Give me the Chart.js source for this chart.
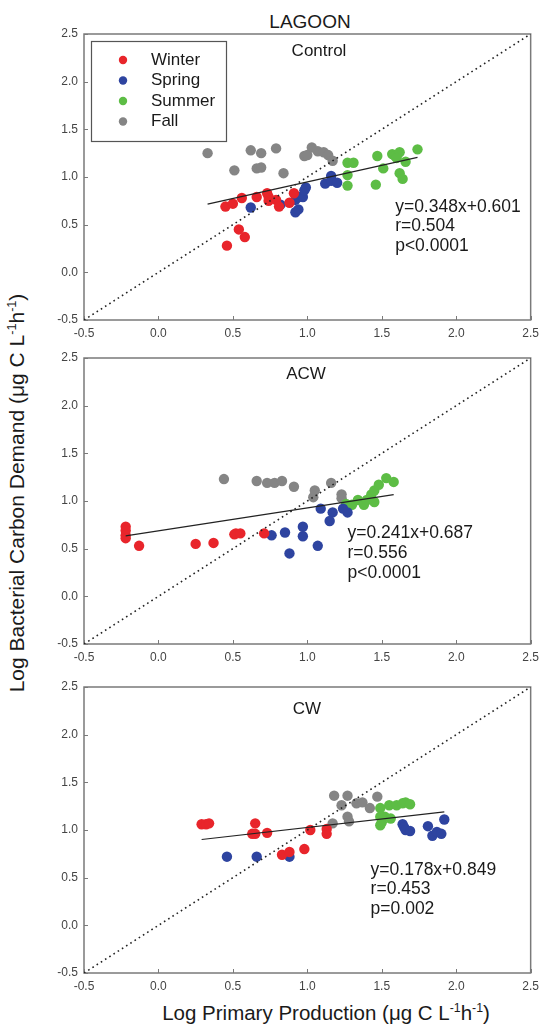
<!DOCTYPE html>
<html>
<head>
<meta charset="utf-8">
<script src="https://cdn.jsdelivr.net/npm/chart.js@4"></script>
<style>
  html, body { margin: 0; padding: 0; background: #fff; }
  body { width: 545px; height: 1030px; position: relative; overflow: hidden;
         font-family: "Liberation Sans", Arial, sans-serif; color: #1a1a1a; }
  canvas { position: absolute; left: 0; }
  .txt { position: absolute; white-space: nowrap; line-height: 1; }
  .txt sup { font-size: 0.6em; vertical-align: 0.6em; line-height: 0; }
  #title { left: 310px; top: 21px; font-size: 19px; transform: translate(-50%, -50%); }
  #xtitle { left: 326px; top: 1013px; font-size: 20.5px; transform: translate(-50%, -50%); }
  #ytitle { left: 16px; top: 493px; font-size: 21px; transform: translate(-50%, -50%) rotate(-90deg); }
</style>
</head>
<body>
<div class="txt" id="title">LAGOON</div>
<div class="txt" id="ytitle">Log Bacterial Carbon Demand (μg C L<sup>-1</sup>h<sup>-1</sup>)</div>
<div class="txt" id="xtitle">Log Primary Production (μg C L<sup>-1</sup>h<sup>-1</sup>)</div>
<canvas id="c1" width="545" height="340" style="top:0px"></canvas>
<canvas id="c2" width="545" height="340" style="top:324px"></canvas>
<canvas id="c3" width="545" height="340" style="top:653px"></canvas>
<script>
// Season labels and colours
const seasons = ['Winter', 'Spring', 'Summer', 'Fall'];
const seasonColors = ['#e8252b', '#2e44a0', '#5dbd45', '#858585'];

// Axis range shared by all panels (log units)
const axisMin = -0.5;
const axisMax = 2.5;
const axisStep = 0.5;

// Control: [log PP, log BCD]
const controlWinter = [[0.45,0.69],[0.50,0.72],[0.56,0.78],[0.66,0.79],[0.73,0.83],[0.74,0.79],[0.74,0.75],[0.79,0.76],[0.81,0.69],[0.88,0.73],[0.91,0.83],[0.54,0.45],[0.58,0.37],[0.46,0.28]];
const controlSpring = [[0.62,0.68],[0.82,0.71],[0.92,0.63],[0.94,0.66],[0.92,0.76],[0.94,0.79],[0.97,0.79],[0.98,0.86],[0.99,0.89],[1.12,0.93],[1.16,1.01],[1.16,0.96],[1.20,0.94]];
const controlSummer = [[1.27,1.15],[1.31,1.15],[1.27,1.02],[1.27,0.91],[1.47,1.22],[1.51,1.09],[1.46,0.92],[1.57,1.24],[1.59,1.22],[1.62,1.26],[1.60,1.20],[1.66,1.16],[1.62,1.04],[1.64,0.98],[1.74,1.29]];
const controlFall = [[0.33,1.25],[0.51,1.07],[0.62,1.28],[0.69,1.25],[0.66,1.09],[0.69,1.10],[0.79,1.30],[0.84,1.04],[0.98,1.22],[1.00,1.23],[1.03,1.31],[1.07,1.27],[1.11,1.26],[1.14,1.23],[1.17,1.17]];

// ACW
const acwWinter = [[-0.22,0.73],[-0.22,0.69],[-0.22,0.64],[-0.22,0.61],[-0.13,0.53],[0.25,0.55],[0.37,0.56],[0.51,0.65],[0.52,0.66],[0.55,0.66],[0.71,0.66]];
const acwSpring = [[0.76,0.64],[0.85,0.67],[0.88,0.45],[0.97,0.73],[0.97,0.63],[1.07,0.53],[1.09,0.92],[1.17,0.88],[1.15,0.79],[1.24,0.92],[1.27,0.88]];
const acwSummer = [[1.26,0.97],[1.30,0.96],[1.34,1.01],[1.38,0.96],[1.40,1.01],[1.45,0.99],[1.43,1.07],[1.45,1.11],[1.48,1.17],[1.53,1.24],[1.58,1.20]];
const acwFall = [[0.44,1.23],[0.66,1.21],[0.73,1.19],[0.78,1.19],[0.83,1.21],[0.91,1.15],[1.05,1.11],[1.04,1.04],[1.16,1.19],[1.23,1.07],[1.23,1.03]];

// CW
const cwWinter = [[0.29,1.06],[0.32,1.06],[0.34,1.07],[0.65,1.07],[0.63,0.96],[0.65,0.96],[0.73,0.97],[0.83,0.74],[0.88,0.77],[0.98,0.80],[1.02,1.00],[1.13,1.01],[1.13,0.96]];
const cwSpring = [[0.46,0.72],[0.66,0.72],[0.88,0.72],[1.64,1.06],[1.65,1.03],[1.66,1.00],[1.69,0.99],[1.81,1.04],[1.84,0.94],[1.87,0.98],[1.90,0.96],[1.92,1.11]];
const cwSummer = [[1.49,1.23],[1.49,1.14],[1.50,1.08],[1.49,1.05],[1.52,1.14],[1.55,1.26],[1.56,1.12],[1.60,1.26],[1.64,1.28],[1.66,1.29],[1.69,1.27]];
const cwFall = [[1.18,1.36],[1.27,1.36],[1.47,1.35],[1.23,1.26],[1.33,1.28],[1.37,1.29],[1.42,1.23],[1.27,1.14],[1.28,1.09],[1.17,1.07]];

// Panel names and regression statistics
const panelNames = ['Control', 'ACW', 'CW'];
const slopes = [0.348, 0.241, 0.178];
const intercepts = [0.601, 0.687, 0.849];
const rValues = ['0.504', '0.556', '0.453'];
const pTexts = ['p<0.0001', 'p<0.0001', 'p=0.002'];

const FONT = '"Liberation Sans", Arial, sans-serif';

const panels = [
  { id: 'c1', seasonData: [controlWinter, controlSpring, controlSummer, controlFall],
    titleAt: { x: 319, dy: 17 }, statsAt: { x: 1.59, y: 0.685 }, legend: true },
  { id: 'c2', seasonData: [acwWinter, acwSpring, acwSummer, acwFall],
    titleAt: { x: 306, dy: 16 }, statsAt: { x: 1.27, y: 0.66 }, legend: false },
  { id: 'c3', seasonData: [cwWinter, cwSpring, cwSummer, cwFall],
    titleAt: { x: 307, dy: 22 }, statsAt: { x: 1.425, y: 0.58 }, legend: false }
];

// Frame, inward tick marks, panel title, stats text and legend box
const decorPlugin = {
  id: 'decor',
  beforeDatasetsDraw(chart, args, opts) {
    const { ctx, chartArea: a, scales } = chart;
    ctx.save();
    ctx.strokeStyle = '#7a7a7a';
    ctx.lineWidth = 1.5;
    ctx.strokeRect(a.left, a.top, a.right - a.left, a.bottom - a.top);
    ctx.lineWidth = 1;
    ctx.beginPath();
    scales.x.ticks.forEach(t => {
      const px = Math.round(scales.x.getPixelForValue(t.value)) + 0.5;
      ctx.moveTo(px, a.bottom); ctx.lineTo(px, a.bottom - 4);
    });
    scales.y.ticks.forEach(t => {
      const py = Math.round(scales.y.getPixelForValue(t.value)) + 0.5;
      ctx.moveTo(a.left, py); ctx.lineTo(a.left + 4, py);
    });
    ctx.stroke();
    ctx.restore();
  },
  afterDraw(chart, args, opts) {
    const { ctx, chartArea: a, scales } = chart;
    const i = opts.index;
    const p = panels[i];
    ctx.save();
    ctx.fillStyle = '#1a1a1a';
    ctx.textBaseline = 'middle';
    ctx.font = '17px ' + FONT;
    ctx.textAlign = 'center';
    ctx.fillText(panelNames[i], p.titleAt.x, a.top + p.titleAt.dy);

    ctx.textAlign = 'left';
    ctx.font = '17.5px ' + FONT;
    const sx = scales.x.getPixelForValue(p.statsAt.x);
    const sy = scales.y.getPixelForValue(p.statsAt.y);
    const eq = 'y=' + slopes[i].toFixed(3) + 'x+' + intercepts[i].toFixed(3);
    ctx.fillText(eq, sx, sy);
    ctx.fillText('r=' + rValues[i], sx, sy + 19.5);
    ctx.fillText(pTexts[i], sx, sy + 39.5);

    if (p.legend) {
      ctx.font = '17px ' + FONT;
      const bx = 91, by = 41, bw = 135, bh = 100;
      ctx.strokeStyle = '#555';
      ctx.lineWidth = 1.2;
      ctx.strokeRect(bx + 0.5, by + 0.5, bw, bh);
      const items = chart.data.datasets.filter(d => d.isSeason);
      items.forEach((d, k) => {
        const ry = by + 19 + k * 20.5;
        ctx.beginPath();
        ctx.fillStyle = d.backgroundColor;
        ctx.arc(bx + 32, ry, 4.2, 0, Math.PI * 2);
        ctx.fill();
        ctx.fillStyle = '#1a1a1a';
        ctx.fillText(d.label, bx + 60, ry);
      });
    }
    ctx.restore();
  }
};

panels.forEach((p, i) => {
  const allX = p.seasonData.flat().map(pt => pt[0]);
  const xLo = Math.min(...allX), xHi = Math.max(...allX);
  const fit = x => slopes[i] * x + intercepts[i];

  const datasets = [
    { label: 'fit', type: 'line', data: [{ x: xLo, y: fit(xLo) }, { x: xHi, y: fit(xHi) }],
      borderColor: '#222', borderWidth: 1.2, pointRadius: 0, showLine: true, fill: false, order: 0 },
    { label: '1:1', type: 'line', data: [{ x: axisMin, y: axisMin }, { x: axisMax, y: axisMax }],
      borderColor: '#222', borderWidth: 1.6, borderDash: [1.6, 3.4], pointRadius: 0,
      showLine: true, fill: false, order: 0 }
  ];
  seasons.forEach((s, k) => {
    datasets.push({
      label: s, isSeason: true,
      data: p.seasonData[k].map(pt => ({ x: pt[0], y: pt[1] })),
      backgroundColor: seasonColors[k], borderColor: seasonColors[k], borderWidth: 0,
      pointRadius: 5.2, pointHoverRadius: 5.2, order: 1
    });
  });

  const tickOpts = {
    stepSize: axisStep, autoSkip: false, maxRotation: 0,
    color: '#444', font: { size: 12, family: FONT },
    callback: v => Number(v).toFixed(1)
  };

  new Chart(document.getElementById(p.id), {
    type: 'scatter',
    data: { datasets },
    options: {
      responsive: false, animation: false, devicePixelRatio: 1,
      layout: { padding: { top: 34, right: 11, left: 0, bottom: 0 } },
      plugins: { legend: { display: false }, tooltip: { enabled: false }, decor: { index: i } },
      scales: {
        x: { type: 'linear', min: axisMin, max: axisMax,
             ticks: Object.assign({ padding: 6 }, tickOpts),
             grid: { display: false, drawTicks: false }, border: { display: false },
             afterFit(s) { s.height = 20; } },
        y: { type: 'linear', min: axisMin, max: axisMax,
             ticks: Object.assign({ padding: 6 }, tickOpts),
             grid: { display: false, drawTicks: false }, border: { display: false },
             afterFit(s) { s.width = 84; } }
      }
    },
    plugins: [decorPlugin]
  });
});
</script>
</body>
</html>
